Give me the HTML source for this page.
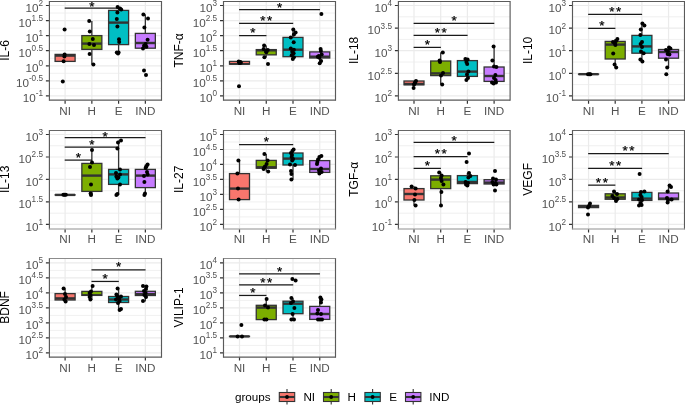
<!DOCTYPE html>
<html><head><meta charset="utf-8"><title>cytokines</title>
<style>html,body{margin:0;padding:0;background:#fff;}body{width:685px;height:405px;overflow:hidden;font-family:"Liberation Sans",sans-serif;}svg{display:block;will-change:transform;}</style></head>
<body>
<svg width="685" height="405" viewBox="0 0 685 405" font-family="'Liberation Sans', sans-serif">
<rect width="685" height="405" fill="#fff"/>
<g>
<rect x="49.4" y="1.5" width="112.1" height="98.65" fill="#fff"/>
<path d="M49.4 13.04H161.5M49.4 28.11H161.5M49.4 43.17H161.5M49.4 58.25H161.5M49.4 73.31H161.5M49.4 88.39H161.5" stroke="#ebebeb" stroke-width="0.75" fill="none"/>
<path d="M49.4 5.5H161.5M49.4 20.57H161.5M49.4 35.64H161.5M49.4 50.71H161.5M49.4 65.78H161.5M49.4 80.85H161.5M49.4 95.92H161.5M65.1 1.5V100.15M91.85 1.5V100.15M118.6 1.5V100.15M145.35 1.5V100.15" stroke="#ebebeb" stroke-width="1.2" fill="none"/>
<rect x="55.1" y="54.4" width="20" height="7" fill="#F8766D" stroke="#333" stroke-width="1.3"/>
<path d="M55.1 55.6H75.1" stroke="#333" stroke-width="2.4" fill="none"/>
<path d="M91.85 21V35.6M91.85 49.4V64.6" stroke="#333" stroke-width="1.3" fill="none"/>
<rect x="81.85" y="35.6" width="20" height="13.8" fill="#7CAE00" stroke="#333" stroke-width="1.3"/>
<path d="M81.85 43.6H101.85" stroke="#333" stroke-width="2.4" fill="none"/>
<path d="M118.6 7V10.4M118.6 44.6V53" stroke="#333" stroke-width="1.3" fill="none"/>
<rect x="108.6" y="10.4" width="20" height="34.2" fill="#00BFC4" stroke="#333" stroke-width="1.3"/>
<path d="M108.6 22.6H128.6" stroke="#333" stroke-width="2.4" fill="none"/>
<path d="M145.35 14.4V33.4M145.35 48.2V49" stroke="#333" stroke-width="1.3" fill="none"/>
<rect x="135.35" y="33.4" width="20" height="14.8" fill="#C77CFF" stroke="#333" stroke-width="1.3"/>
<path d="M135.35 43H155.35" stroke="#333" stroke-width="2.4" fill="none"/>
<path d="M64.7 8.1H118.8" stroke="#1a1a1a" stroke-width="1.25" fill="none"/>
<text x="91.85" y="11.23" font-size="13.4" text-anchor="middle" fill="#000" stroke="#000" stroke-width="0.25">*</text>
<circle cx="64.6" cy="29.4" r="2" fill="#000"/>
<circle cx="64.6" cy="54.6" r="2" fill="#000"/>
<circle cx="64.4" cy="56.4" r="2" fill="#000"/>
<circle cx="63.6" cy="61.2" r="2" fill="#000"/>
<circle cx="62.8" cy="81.6" r="2" fill="#000"/>
<circle cx="89.2" cy="21" r="2" fill="#000"/>
<circle cx="89.8" cy="31.4" r="2" fill="#000"/>
<circle cx="92.8" cy="39" r="2" fill="#000"/>
<circle cx="89.4" cy="44" r="2" fill="#000"/>
<circle cx="94" cy="45" r="2" fill="#000"/>
<circle cx="89.6" cy="54" r="2" fill="#000"/>
<circle cx="93.4" cy="64.6" r="2" fill="#000"/>
<circle cx="117.6" cy="7" r="2" fill="#000"/>
<circle cx="120" cy="8.4" r="2" fill="#000"/>
<circle cx="121.2" cy="9.6" r="2" fill="#000"/>
<circle cx="117.4" cy="12.6" r="2" fill="#000"/>
<circle cx="116.8" cy="19" r="2" fill="#000"/>
<circle cx="117.4" cy="26.6" r="2" fill="#000"/>
<circle cx="119" cy="39.2" r="2" fill="#000"/>
<circle cx="119.2" cy="42" r="2" fill="#000"/>
<circle cx="116.8" cy="52.4" r="2" fill="#000"/>
<circle cx="118.6" cy="52.6" r="2" fill="#000"/>
<circle cx="118" cy="53.6" r="2" fill="#000"/>
<circle cx="143.4" cy="14.4" r="2" fill="#000"/>
<circle cx="148" cy="18.4" r="2" fill="#000"/>
<circle cx="144.4" cy="27.6" r="2" fill="#000"/>
<circle cx="147.6" cy="39.7" r="2" fill="#000"/>
<circle cx="145.6" cy="44" r="2" fill="#000"/>
<circle cx="144" cy="45.7" r="2" fill="#000"/>
<circle cx="146.4" cy="46.8" r="2" fill="#000"/>
<circle cx="143" cy="48.5" r="2" fill="#000"/>
<circle cx="144" cy="70.4" r="2" fill="#000"/>
<circle cx="146" cy="75" r="2" fill="#000"/>
<path d="M49.4 1.5V100.15M161.5 1.5V100.15" stroke="#5a5a5a" stroke-width="1.15" stroke-linecap="square" fill="none"/>
<path d="M49.4 1.5H161.5" stroke="#5a5a5a" stroke-width="1.15" fill="none"/>
<path d="M49.4 100.15H161.5" stroke="#5a5a5a" stroke-width="1.15" fill="none"/>
<path d="M45.9 5.5H48.9M45.9 20.57H48.9M45.9 35.64H48.9M45.9 50.71H48.9M45.9 65.78H48.9M45.9 80.85H48.9M45.9 95.92H48.9M65.1 100.65V103.65M91.85 100.65V103.65M118.6 100.65V103.65M145.35 100.65V103.65" stroke="#333" stroke-width="1.2" fill="none"/>
<text x="43" y="11.7" text-anchor="end" font-size="11.7" fill="#525252">10<tspan font-size="8.2" dy="-5.8">2</tspan></text>
<text x="43" y="26.77" text-anchor="end" font-size="11.7" fill="#525252">10<tspan font-size="8.2" dy="-5.8">1.5</tspan></text>
<text x="43" y="41.84" text-anchor="end" font-size="11.7" fill="#525252">10<tspan font-size="8.2" dy="-5.8">1</tspan></text>
<text x="43" y="56.91" text-anchor="end" font-size="11.7" fill="#525252">10<tspan font-size="8.2" dy="-5.8">0.5</tspan></text>
<text x="43" y="71.98" text-anchor="end" font-size="11.7" fill="#525252">10<tspan font-size="8.2" dy="-5.8">0</tspan></text>
<text x="43" y="87.05" text-anchor="end" font-size="11.7" fill="#525252">10<tspan font-size="8.2" dy="-5.8">-0.5</tspan></text>
<text x="43" y="102.12" text-anchor="end" font-size="11.7" fill="#525252">10<tspan font-size="8.2" dy="-5.8">-1</tspan></text>
<text x="65.1" y="114.55" text-anchor="middle" font-size="11.7" fill="#525252">NI</text>
<text x="91.85" y="114.55" text-anchor="middle" font-size="11.7" fill="#525252">H</text>
<text x="118.6" y="114.55" text-anchor="middle" font-size="11.7" fill="#525252">E</text>
<text x="145.35" y="114.55" text-anchor="middle" font-size="11.7" fill="#525252">IND</text>
<text transform="translate(9 50.43) rotate(-90)" text-anchor="middle" font-size="12" fill="#000">IL-6</text>
</g>
<g>
<rect x="223.5" y="1.5" width="112" height="98.65" fill="#fff"/>
<path d="M223.5 13.04H335.5M223.5 28.11H335.5M223.5 43.17H335.5M223.5 58.25H335.5M223.5 73.31H335.5M223.5 88.39H335.5" stroke="#ebebeb" stroke-width="0.75" fill="none"/>
<path d="M223.5 5.5H335.5M223.5 20.57H335.5M223.5 35.64H335.5M223.5 50.71H335.5M223.5 65.78H335.5M223.5 80.85H335.5M223.5 95.92H335.5M239.5 1.5V100.15M266.25 1.5V100.15M293 1.5V100.15M319.75 1.5V100.15" stroke="#ebebeb" stroke-width="1.2" fill="none"/>
<rect x="229.5" y="61.4" width="20" height="2.75" fill="#F8766D" stroke="#333" stroke-width="1.3"/>
<path d="M229.5 63.9H249.5" stroke="#333" stroke-width="1.8" fill="none"/>
<path d="M266.25 45.6V49.6M266.25 54.85V57.2" stroke="#333" stroke-width="1.3" fill="none"/>
<rect x="256.25" y="49.6" width="20" height="5.25" fill="#7CAE00" stroke="#333" stroke-width="1.3"/>
<path d="M256.25 50.3H276.25" stroke="#333" stroke-width="2.4" fill="none"/>
<path d="M293 29.4V37.4M293 56.7V58.9" stroke="#333" stroke-width="1.3" fill="none"/>
<rect x="283" y="37.4" width="20" height="19.3" fill="#00BFC4" stroke="#333" stroke-width="1.3"/>
<path d="M283 49.7H303" stroke="#333" stroke-width="2.4" fill="none"/>
<path d="M319.75 48.9V51.9M319.75 58V63.3" stroke="#333" stroke-width="1.3" fill="none"/>
<rect x="309.75" y="51.9" width="20" height="6.1" fill="#C77CFF" stroke="#333" stroke-width="1.3"/>
<path d="M309.75 56.7H329.75" stroke="#333" stroke-width="2.4" fill="none"/>
<path d="M239.1 9.55H319.95" stroke="#1a1a1a" stroke-width="1.25" fill="none"/>
<text x="279.62" y="12.24" font-size="13.4" text-anchor="middle" fill="#000" stroke="#000" stroke-width="0.25">*</text>
<path d="M239.1 23.3H293.2" stroke="#1a1a1a" stroke-width="1.25" fill="none"/>
<text x="262.85" y="24.94" font-size="13.4" text-anchor="middle" fill="#000" stroke="#000" stroke-width="0.25">*</text>
<text x="269.65" y="24.94" font-size="13.4" text-anchor="middle" fill="#000" stroke="#000" stroke-width="0.25">*</text>
<path d="M239.1 35.6H266.45" stroke="#1a1a1a" stroke-width="1.25" fill="none"/>
<text x="252.88" y="37.23" font-size="13.4" text-anchor="middle" fill="#000" stroke="#000" stroke-width="0.25">*</text>
<circle cx="238.7" cy="61.6" r="2" fill="#000"/>
<circle cx="240.4" cy="62" r="2" fill="#000"/>
<circle cx="239.4" cy="63" r="2" fill="#000"/>
<circle cx="240.8" cy="62.8" r="2" fill="#000"/>
<circle cx="239" cy="86.2" r="2" fill="#000"/>
<circle cx="264.1" cy="45.6" r="2" fill="#000"/>
<circle cx="263.6" cy="48.9" r="2" fill="#000"/>
<circle cx="267.8" cy="50" r="2" fill="#000"/>
<circle cx="266.3" cy="52.2" r="2" fill="#000"/>
<circle cx="266" cy="51" r="2" fill="#000"/>
<circle cx="264.4" cy="57.2" r="2" fill="#000"/>
<circle cx="268" cy="63.9" r="2" fill="#000"/>
<circle cx="293.3" cy="29.4" r="2" fill="#000"/>
<circle cx="295.6" cy="32.6" r="2" fill="#000"/>
<circle cx="293.9" cy="34.4" r="2" fill="#000"/>
<circle cx="290.8" cy="37.4" r="2" fill="#000"/>
<circle cx="293.7" cy="42.2" r="2" fill="#000"/>
<circle cx="290.8" cy="48.6" r="2" fill="#000"/>
<circle cx="293.9" cy="49.7" r="2" fill="#000"/>
<circle cx="292.2" cy="51.7" r="2" fill="#000"/>
<circle cx="293.6" cy="53.3" r="2" fill="#000"/>
<circle cx="291.7" cy="55.2" r="2" fill="#000"/>
<circle cx="293.9" cy="57.2" r="2" fill="#000"/>
<circle cx="292.8" cy="58.9" r="2" fill="#000"/>
<circle cx="321.4" cy="14" r="2" fill="#000"/>
<circle cx="320.6" cy="48.9" r="2" fill="#000"/>
<circle cx="320.9" cy="51" r="2" fill="#000"/>
<circle cx="321.7" cy="54.4" r="2" fill="#000"/>
<circle cx="318.9" cy="56.1" r="2" fill="#000"/>
<circle cx="317.8" cy="56.7" r="2" fill="#000"/>
<circle cx="319.4" cy="57.8" r="2" fill="#000"/>
<circle cx="321.1" cy="61.1" r="2" fill="#000"/>
<circle cx="319.7" cy="63.3" r="2" fill="#000"/>
<path d="M223.5 1.5V100.15M335.5 1.5V100.15" stroke="#5a5a5a" stroke-width="1.15" stroke-linecap="square" fill="none"/>
<path d="M223.5 1.5H335.5" stroke="#5a5a5a" stroke-width="1.15" fill="none"/>
<path d="M223.5 100.15H335.5" stroke="#5a5a5a" stroke-width="1.15" fill="none"/>
<path d="M220 5.5H223M220 20.57H223M220 35.64H223M220 50.71H223M220 65.78H223M220 80.85H223M220 95.92H223M239.5 100.65V103.65M266.25 100.65V103.65M293 100.65V103.65M319.75 100.65V103.65" stroke="#333" stroke-width="1.2" fill="none"/>
<text x="217.1" y="11.7" text-anchor="end" font-size="11.7" fill="#525252">10<tspan font-size="8.2" dy="-5.8">3</tspan></text>
<text x="217.1" y="26.77" text-anchor="end" font-size="11.7" fill="#525252">10<tspan font-size="8.2" dy="-5.8">2.5</tspan></text>
<text x="217.1" y="41.84" text-anchor="end" font-size="11.7" fill="#525252">10<tspan font-size="8.2" dy="-5.8">2</tspan></text>
<text x="217.1" y="56.91" text-anchor="end" font-size="11.7" fill="#525252">10<tspan font-size="8.2" dy="-5.8">1.5</tspan></text>
<text x="217.1" y="71.98" text-anchor="end" font-size="11.7" fill="#525252">10<tspan font-size="8.2" dy="-5.8">1</tspan></text>
<text x="217.1" y="87.05" text-anchor="end" font-size="11.7" fill="#525252">10<tspan font-size="8.2" dy="-5.8">0.5</tspan></text>
<text x="217.1" y="102.12" text-anchor="end" font-size="11.7" fill="#525252">10<tspan font-size="8.2" dy="-5.8">0</tspan></text>
<text x="239.5" y="114.55" text-anchor="middle" font-size="11.7" fill="#525252">NI</text>
<text x="266.25" y="114.55" text-anchor="middle" font-size="11.7" fill="#525252">H</text>
<text x="293" y="114.55" text-anchor="middle" font-size="11.7" fill="#525252">E</text>
<text x="319.75" y="114.55" text-anchor="middle" font-size="11.7" fill="#525252">IND</text>
<text transform="translate(183.1 50.43) rotate(-90)" text-anchor="middle" font-size="12" fill="#000">TNF-α</text>
</g>
<g>
<rect x="398.4" y="1.5" width="111.7" height="98.65" fill="#fff"/>
<path d="M398.4 16.8H510.1M398.4 39.4H510.1M398.4 62H510.1M398.4 84.6H510.1" stroke="#ebebeb" stroke-width="0.75" fill="none"/>
<path d="M398.4 5.5H510.1M398.4 28.1H510.1M398.4 50.7H510.1M398.4 73.3H510.1M398.4 95.9H510.1M414 1.5V100.15M440.7 1.5V100.15M467.4 1.5V100.15M494.1 1.5V100.15" stroke="#ebebeb" stroke-width="1.2" fill="none"/>
<rect x="404" y="81" width="20" height="3.8" fill="#F8766D" stroke="#333" stroke-width="1.3"/>
<path d="M404 84H424" stroke="#333" stroke-width="2.4" fill="none"/>
<path d="M440.7 52.6V61M440.7 75.6V84.4" stroke="#333" stroke-width="1.3" fill="none"/>
<rect x="430.7" y="61" width="20" height="14.6" fill="#7CAE00" stroke="#333" stroke-width="1.3"/>
<path d="M430.7 73.4H450.7" stroke="#333" stroke-width="2.4" fill="none"/>
<path d="M467.4 59V60.6M467.4 76.4V80" stroke="#333" stroke-width="1.3" fill="none"/>
<rect x="457.4" y="60.6" width="20" height="15.8" fill="#00BFC4" stroke="#333" stroke-width="1.3"/>
<path d="M457.4 71.6H477.4" stroke="#333" stroke-width="2.4" fill="none"/>
<path d="M494.1 46.6V67M494.1 81.4V83.6" stroke="#333" stroke-width="1.3" fill="none"/>
<rect x="484.1" y="67" width="20" height="14.4" fill="#C77CFF" stroke="#333" stroke-width="1.3"/>
<path d="M484.1 76H504.1" stroke="#333" stroke-width="2.4" fill="none"/>
<path d="M413.6 23.4H494.3" stroke="#1a1a1a" stroke-width="1.25" fill="none"/>
<text x="454.05" y="25.04" font-size="13.4" text-anchor="middle" fill="#000" stroke="#000" stroke-width="0.25">*</text>
<path d="M413.6 35.4H467.6" stroke="#1a1a1a" stroke-width="1.25" fill="none"/>
<text x="437.3" y="37.03" font-size="13.4" text-anchor="middle" fill="#000" stroke="#000" stroke-width="0.25">*</text>
<text x="444.1" y="37.03" font-size="13.4" text-anchor="middle" fill="#000" stroke="#000" stroke-width="0.25">*</text>
<path d="M413.6 47.4H440.9" stroke="#1a1a1a" stroke-width="1.25" fill="none"/>
<text x="427.35" y="49.03" font-size="13.4" text-anchor="middle" fill="#000" stroke="#000" stroke-width="0.25">*</text>
<circle cx="416" cy="81" r="2" fill="#000"/>
<circle cx="415" cy="82.4" r="2" fill="#000"/>
<circle cx="414.6" cy="83.4" r="2" fill="#000"/>
<circle cx="414" cy="84.4" r="2" fill="#000"/>
<circle cx="413.6" cy="88" r="2" fill="#000"/>
<circle cx="442.8" cy="52.6" r="2" fill="#000"/>
<circle cx="439.6" cy="60.4" r="2" fill="#000"/>
<circle cx="440" cy="62" r="2" fill="#000"/>
<circle cx="443" cy="73" r="2" fill="#000"/>
<circle cx="441" cy="75.6" r="2" fill="#000"/>
<circle cx="442.2" cy="84.4" r="2" fill="#000"/>
<circle cx="465.4" cy="59" r="2" fill="#000"/>
<circle cx="467.6" cy="59.6" r="2" fill="#000"/>
<circle cx="466.4" cy="62" r="2" fill="#000"/>
<circle cx="467.2" cy="64" r="2" fill="#000"/>
<circle cx="468.4" cy="71.4" r="2" fill="#000"/>
<circle cx="467" cy="74.4" r="2" fill="#000"/>
<circle cx="468" cy="78" r="2" fill="#000"/>
<circle cx="466.4" cy="80" r="2" fill="#000"/>
<circle cx="493.6" cy="46.6" r="2" fill="#000"/>
<circle cx="492.4" cy="60.4" r="2" fill="#000"/>
<circle cx="494" cy="66.4" r="2" fill="#000"/>
<circle cx="496.4" cy="67" r="2" fill="#000"/>
<circle cx="495.4" cy="75" r="2" fill="#000"/>
<circle cx="494" cy="78" r="2" fill="#000"/>
<circle cx="495.6" cy="80" r="2" fill="#000"/>
<circle cx="492" cy="82.4" r="2" fill="#000"/>
<circle cx="496" cy="82.4" r="2" fill="#000"/>
<circle cx="493.6" cy="83.6" r="2" fill="#000"/>
<path d="M398.4 1.5V100.15M510.1 1.5V100.15" stroke="#5a5a5a" stroke-width="1.15" stroke-linecap="square" fill="none"/>
<path d="M398.4 1.5H510.1" stroke="#5a5a5a" stroke-width="1.15" fill="none"/>
<path d="M398.4 100.15H510.1" stroke="#5a5a5a" stroke-width="1.15" fill="none"/>
<path d="M394.9 5.5H397.9M394.9 28.1H397.9M394.9 50.7H397.9M394.9 73.3H397.9M394.9 95.9H397.9M414 100.65V103.65M440.7 100.65V103.65M467.4 100.65V103.65M494.1 100.65V103.65" stroke="#333" stroke-width="1.2" fill="none"/>
<text x="392" y="11.7" text-anchor="end" font-size="11.7" fill="#525252">10<tspan font-size="8.2" dy="-5.8">4</tspan></text>
<text x="392" y="34.3" text-anchor="end" font-size="11.7" fill="#525252">10<tspan font-size="8.2" dy="-5.8">3.5</tspan></text>
<text x="392" y="56.9" text-anchor="end" font-size="11.7" fill="#525252">10<tspan font-size="8.2" dy="-5.8">3</tspan></text>
<text x="392" y="79.5" text-anchor="end" font-size="11.7" fill="#525252">10<tspan font-size="8.2" dy="-5.8">2.5</tspan></text>
<text x="392" y="102.1" text-anchor="end" font-size="11.7" fill="#525252">10<tspan font-size="8.2" dy="-5.8">2</tspan></text>
<text x="414" y="114.55" text-anchor="middle" font-size="11.7" fill="#525252">NI</text>
<text x="440.7" y="114.55" text-anchor="middle" font-size="11.7" fill="#525252">H</text>
<text x="467.4" y="114.55" text-anchor="middle" font-size="11.7" fill="#525252">E</text>
<text x="494.1" y="114.55" text-anchor="middle" font-size="11.7" fill="#525252">IND</text>
<text transform="translate(358 50.43) rotate(-90)" text-anchor="middle" font-size="12" fill="#000">IL-18</text>
</g>
<g>
<rect x="572.5" y="1.5" width="112" height="98.65" fill="#fff"/>
<path d="M572.5 16.8H684.5M572.5 39.4H684.5M572.5 62H684.5M572.5 84.6H684.5" stroke="#ebebeb" stroke-width="0.75" fill="none"/>
<path d="M572.5 5.5H684.5M572.5 28.1H684.5M572.5 50.7H684.5M572.5 73.3H684.5M572.5 95.9H684.5M588.55 1.5V100.15M615.2 1.5V100.15M641.9 1.5V100.15M668.55 1.5V100.15" stroke="#ebebeb" stroke-width="1.2" fill="none"/>
<rect x="578.55" y="74.2" width="20" height="0.01" fill="#F8766D" stroke="#333" stroke-width="1.3"/>
<path d="M578.55 74.2H598.55" stroke="#333" stroke-width="2.4" fill="none"/>
<path d="M615.2 39V41.4M615.2 59V67.6" stroke="#333" stroke-width="1.3" fill="none"/>
<rect x="605.2" y="41.4" width="20" height="17.6" fill="#7CAE00" stroke="#333" stroke-width="1.3"/>
<path d="M605.2 44.6H625.2" stroke="#333" stroke-width="2.4" fill="none"/>
<path d="M641.9 23.6V35.4M641.9 53.2V61.6" stroke="#333" stroke-width="1.3" fill="none"/>
<rect x="631.9" y="35.4" width="20" height="17.8" fill="#00BFC4" stroke="#333" stroke-width="1.3"/>
<path d="M631.9 46.4H651.9" stroke="#333" stroke-width="2.4" fill="none"/>
<path d="M668.55 47.6V49.5M668.55 58.2V67.4" stroke="#333" stroke-width="1.3" fill="none"/>
<rect x="658.55" y="49.5" width="20" height="8.7" fill="#C77CFF" stroke="#333" stroke-width="1.3"/>
<path d="M658.55 52H678.55" stroke="#333" stroke-width="2.4" fill="none"/>
<path d="M588.15 14.45H642.1" stroke="#1a1a1a" stroke-width="1.25" fill="none"/>
<text x="611.82" y="16.09" font-size="13.4" text-anchor="middle" fill="#000" stroke="#000" stroke-width="0.25">*</text>
<text x="618.62" y="16.09" font-size="13.4" text-anchor="middle" fill="#000" stroke="#000" stroke-width="0.25">*</text>
<path d="M588.15 28.35H615.4" stroke="#1a1a1a" stroke-width="1.25" fill="none"/>
<text x="601.88" y="29.99" font-size="13.4" text-anchor="middle" fill="#000" stroke="#000" stroke-width="0.25">*</text>
<circle cx="588" cy="74.2" r="2" fill="#000"/>
<circle cx="589.4" cy="74.2" r="2" fill="#000"/>
<circle cx="590.4" cy="74.2" r="2" fill="#000"/>
<circle cx="617.4" cy="39" r="2" fill="#000"/>
<circle cx="616" cy="41" r="2" fill="#000"/>
<circle cx="613" cy="42" r="2" fill="#000"/>
<circle cx="615" cy="43.6" r="2" fill="#000"/>
<circle cx="615.4" cy="45" r="2" fill="#000"/>
<circle cx="613.2" cy="53.6" r="2" fill="#000"/>
<circle cx="614.6" cy="64.4" r="2" fill="#000"/>
<circle cx="616.2" cy="67.6" r="2" fill="#000"/>
<circle cx="642.4" cy="23.6" r="2" fill="#000"/>
<circle cx="644.4" cy="25.4" r="2" fill="#000"/>
<circle cx="640.8" cy="29.6" r="2" fill="#000"/>
<circle cx="640.4" cy="35" r="2" fill="#000"/>
<circle cx="642" cy="42" r="2" fill="#000"/>
<circle cx="640.6" cy="44" r="2" fill="#000"/>
<circle cx="642" cy="47" r="2" fill="#000"/>
<circle cx="641" cy="51.6" r="2" fill="#000"/>
<circle cx="643.6" cy="53.2" r="2" fill="#000"/>
<circle cx="640.4" cy="59.4" r="2" fill="#000"/>
<circle cx="642.4" cy="61.4" r="2" fill="#000"/>
<circle cx="669" cy="47.6" r="2" fill="#000"/>
<circle cx="670.4" cy="48.6" r="2" fill="#000"/>
<circle cx="666" cy="50" r="2" fill="#000"/>
<circle cx="668" cy="51" r="2" fill="#000"/>
<circle cx="667.6" cy="54" r="2" fill="#000"/>
<circle cx="669.4" cy="54.4" r="2" fill="#000"/>
<circle cx="666" cy="59.4" r="2" fill="#000"/>
<circle cx="667.2" cy="67.6" r="2" fill="#000"/>
<circle cx="666.3" cy="74.3" r="2" fill="#000"/>
<path d="M572.5 1.5V100.15M684.5 1.5V100.15" stroke="#5a5a5a" stroke-width="1.15" stroke-linecap="square" fill="none"/>
<path d="M572.5 1.5H684.5" stroke="#5a5a5a" stroke-width="1.15" fill="none"/>
<path d="M572.5 100.15H684.5" stroke="#5a5a5a" stroke-width="1.15" fill="none"/>
<path d="M569 5.5H572M569 28.1H572M569 50.7H572M569 73.3H572M569 95.9H572M588.55 100.65V103.65M615.2 100.65V103.65M641.9 100.65V103.65M668.55 100.65V103.65" stroke="#333" stroke-width="1.2" fill="none"/>
<text x="566.1" y="11.7" text-anchor="end" font-size="11.7" fill="#525252">10<tspan font-size="8.2" dy="-5.8">3</tspan></text>
<text x="566.1" y="34.3" text-anchor="end" font-size="11.7" fill="#525252">10<tspan font-size="8.2" dy="-5.8">2</tspan></text>
<text x="566.1" y="56.9" text-anchor="end" font-size="11.7" fill="#525252">10<tspan font-size="8.2" dy="-5.8">1</tspan></text>
<text x="566.1" y="79.5" text-anchor="end" font-size="11.7" fill="#525252">10<tspan font-size="8.2" dy="-5.8">0</tspan></text>
<text x="566.1" y="102.1" text-anchor="end" font-size="11.7" fill="#525252">10<tspan font-size="8.2" dy="-5.8">-1</tspan></text>
<text x="588.55" y="114.55" text-anchor="middle" font-size="11.7" fill="#525252">NI</text>
<text x="615.2" y="114.55" text-anchor="middle" font-size="11.7" fill="#525252">H</text>
<text x="641.9" y="114.55" text-anchor="middle" font-size="11.7" fill="#525252">E</text>
<text x="668.55" y="114.55" text-anchor="middle" font-size="11.7" fill="#525252">IND</text>
<text transform="translate(532.1 50.43) rotate(-90)" text-anchor="middle" font-size="12" fill="#000">IL-10</text>
</g>
<g>
<rect x="49.4" y="130.5" width="112.1" height="98.45" fill="#fff"/>
<path d="M49.4 145.74H161.5M49.4 168.22H161.5M49.4 190.7H161.5M49.4 213.18H161.5" stroke="#ebebeb" stroke-width="0.75" fill="none"/>
<path d="M49.4 134.5H161.5M49.4 156.98H161.5M49.4 179.46H161.5M49.4 201.94H161.5M49.4 224.42H161.5M65.1 130.5V228.95M91.85 130.5V228.95M118.6 130.5V228.95M145.35 130.5V228.95" stroke="#ebebeb" stroke-width="1.2" fill="none"/>
<rect x="55.1" y="194.9" width="20" height="0.01" fill="#F8766D" stroke="#333" stroke-width="1.3"/>
<path d="M55.1 194.9H75.1" stroke="#333" stroke-width="2.4" fill="none"/>
<path d="M91.85 150V163.4M91.85 191.4V195" stroke="#333" stroke-width="1.3" fill="none"/>
<rect x="81.85" y="163.4" width="20" height="28" fill="#7CAE00" stroke="#333" stroke-width="1.3"/>
<path d="M81.85 175.6H101.85" stroke="#333" stroke-width="2.4" fill="none"/>
<path d="M118.6 140.6V169.4M118.6 184.4V195" stroke="#333" stroke-width="1.3" fill="none"/>
<rect x="108.6" y="169.4" width="20" height="15" fill="#00BFC4" stroke="#333" stroke-width="1.3"/>
<path d="M108.6 174.4H128.6" stroke="#333" stroke-width="2.4" fill="none"/>
<path d="M145.35 164.6V169.4M145.35 187.6V195" stroke="#333" stroke-width="1.3" fill="none"/>
<rect x="135.35" y="169.4" width="20" height="18.2" fill="#C77CFF" stroke="#333" stroke-width="1.3"/>
<path d="M135.35 175.6H155.35" stroke="#333" stroke-width="2.4" fill="none"/>
<path d="M64.7 137.7H145.55" stroke="#1a1a1a" stroke-width="1.25" fill="none"/>
<text x="105.22" y="140.53" font-size="13.4" text-anchor="middle" fill="#000" stroke="#000" stroke-width="0.25">*</text>
<path d="M64.7 147H118.8" stroke="#1a1a1a" stroke-width="1.25" fill="none"/>
<text x="91.85" y="149.44" font-size="13.4" text-anchor="middle" fill="#000" stroke="#000" stroke-width="0.25">*</text>
<path d="M64.7 160.1H92.05" stroke="#1a1a1a" stroke-width="1.25" fill="none"/>
<text x="78.47" y="161.74" font-size="13.4" text-anchor="middle" fill="#000" stroke="#000" stroke-width="0.25">*</text>
<circle cx="63.4" cy="194.8" r="2" fill="#000"/>
<circle cx="64.6" cy="194.8" r="2" fill="#000"/>
<circle cx="65.8" cy="194.8" r="2" fill="#000"/>
<circle cx="92" cy="150" r="2" fill="#000"/>
<circle cx="92" cy="162.6" r="2" fill="#000"/>
<circle cx="90" cy="167" r="2" fill="#000"/>
<circle cx="91" cy="184.6" r="2" fill="#000"/>
<circle cx="90.6" cy="193.6" r="2" fill="#000"/>
<circle cx="91" cy="195" r="2" fill="#000"/>
<circle cx="121" cy="140.6" r="2" fill="#000"/>
<circle cx="118" cy="142.6" r="2" fill="#000"/>
<circle cx="117.4" cy="148.6" r="2" fill="#000"/>
<circle cx="120" cy="169.4" r="2" fill="#000"/>
<circle cx="116" cy="173" r="2" fill="#000"/>
<circle cx="120" cy="174.6" r="2" fill="#000"/>
<circle cx="116.4" cy="176.6" r="2" fill="#000"/>
<circle cx="118.4" cy="177.4" r="2" fill="#000"/>
<circle cx="117.4" cy="178.4" r="2" fill="#000"/>
<circle cx="120" cy="184.4" r="2" fill="#000"/>
<circle cx="117.4" cy="194" r="2" fill="#000"/>
<circle cx="116.4" cy="195" r="2" fill="#000"/>
<circle cx="147.6" cy="164.6" r="2" fill="#000"/>
<circle cx="146.4" cy="166.6" r="2" fill="#000"/>
<circle cx="145.6" cy="168" r="2" fill="#000"/>
<circle cx="147" cy="172" r="2" fill="#000"/>
<circle cx="147.6" cy="174.6" r="2" fill="#000"/>
<circle cx="144" cy="176" r="2" fill="#000"/>
<circle cx="144.4" cy="182" r="2" fill="#000"/>
<circle cx="145" cy="193.6" r="2" fill="#000"/>
<circle cx="144.4" cy="195" r="2" fill="#000"/>
<path d="M49.4 130.5V228.95M161.5 130.5V228.95" stroke="#5a5a5a" stroke-width="1.15" stroke-linecap="square" fill="none"/>
<path d="M49.4 130.5H161.5" stroke="#666" stroke-width="1.15" fill="none"/>
<path d="M49.4 228.95H161.5" stroke="#b4b4b4" stroke-width="1.6" fill="none"/>
<path d="M45.9 134.5H48.9M45.9 156.98H48.9M45.9 179.46H48.9M45.9 201.94H48.9M45.9 224.42H48.9M65.1 229.45V232.45M91.85 229.45V232.45M118.6 229.45V232.45M145.35 229.45V232.45" stroke="#333" stroke-width="1.2" fill="none"/>
<text x="43" y="140.7" text-anchor="end" font-size="11.7" fill="#525252">10<tspan font-size="8.2" dy="-5.8">3</tspan></text>
<text x="43" y="163.18" text-anchor="end" font-size="11.7" fill="#525252">10<tspan font-size="8.2" dy="-5.8">2.5</tspan></text>
<text x="43" y="185.66" text-anchor="end" font-size="11.7" fill="#525252">10<tspan font-size="8.2" dy="-5.8">2</tspan></text>
<text x="43" y="208.14" text-anchor="end" font-size="11.7" fill="#525252">10<tspan font-size="8.2" dy="-5.8">1.5</tspan></text>
<text x="43" y="230.62" text-anchor="end" font-size="11.7" fill="#525252">10<tspan font-size="8.2" dy="-5.8">1</tspan></text>
<text x="65.1" y="243.35" text-anchor="middle" font-size="11.7" fill="#525252">NI</text>
<text x="91.85" y="243.35" text-anchor="middle" font-size="11.7" fill="#525252">H</text>
<text x="118.6" y="243.35" text-anchor="middle" font-size="11.7" fill="#525252">E</text>
<text x="145.35" y="243.35" text-anchor="middle" font-size="11.7" fill="#525252">IND</text>
<text transform="translate(9 179.32) rotate(-90)" text-anchor="middle" font-size="12" fill="#000">IL-13</text>
</g>
<g>
<rect x="223.5" y="130.5" width="112" height="98.45" fill="#fff"/>
<path d="M223.5 141.99H335.5M223.5 156.97H335.5M223.5 171.95H335.5M223.5 186.93H335.5M223.5 201.91H335.5M223.5 216.89H335.5" stroke="#ebebeb" stroke-width="0.75" fill="none"/>
<path d="M223.5 134.5H335.5M223.5 149.48H335.5M223.5 164.46H335.5M223.5 179.44H335.5M223.5 194.42H335.5M223.5 209.4H335.5M223.5 224.38H335.5M239.5 130.5V228.95M266.25 130.5V228.95M293 130.5V228.95M319.75 130.5V228.95" stroke="#ebebeb" stroke-width="1.2" fill="none"/>
<path d="M239.5 160.6V173.6" stroke="#333" stroke-width="1.3" fill="none"/>
<rect x="229.5" y="173.6" width="20" height="26" fill="#F8766D" stroke="#333" stroke-width="1.3"/>
<path d="M229.5 188.6H249.5" stroke="#333" stroke-width="2.4" fill="none"/>
<path d="M266.25 154V160.4M266.25 168.2V171.4" stroke="#333" stroke-width="1.3" fill="none"/>
<rect x="256.25" y="160.4" width="20" height="7.8" fill="#7CAE00" stroke="#333" stroke-width="1.3"/>
<path d="M256.25 167.3H276.25" stroke="#333" stroke-width="2.4" fill="none"/>
<path d="M293 149.4V153M293 165V179.4" stroke="#333" stroke-width="1.3" fill="none"/>
<rect x="283" y="153" width="20" height="12" fill="#00BFC4" stroke="#333" stroke-width="1.3"/>
<path d="M283 158.6H303" stroke="#333" stroke-width="2.4" fill="none"/>
<path d="M319.75 156V160.6M319.75 172.4V174" stroke="#333" stroke-width="1.3" fill="none"/>
<rect x="309.75" y="160.6" width="20" height="11.8" fill="#C77CFF" stroke="#333" stroke-width="1.3"/>
<path d="M309.75 169H329.75" stroke="#333" stroke-width="2.4" fill="none"/>
<path d="M239.1 144.6H293.2" stroke="#1a1a1a" stroke-width="1.25" fill="none"/>
<text x="266.25" y="146.24" font-size="13.4" text-anchor="middle" fill="#000" stroke="#000" stroke-width="0.25">*</text>
<circle cx="238.4" cy="160.6" r="2" fill="#000"/>
<circle cx="237.4" cy="173.4" r="2" fill="#000"/>
<circle cx="238" cy="188.6" r="2" fill="#000"/>
<circle cx="238.6" cy="199.6" r="2" fill="#000"/>
<circle cx="264.4" cy="154" r="2" fill="#000"/>
<circle cx="267.6" cy="160.6" r="2" fill="#000"/>
<circle cx="266.6" cy="164" r="2" fill="#000"/>
<circle cx="265" cy="166.4" r="2" fill="#000"/>
<circle cx="264.4" cy="167.6" r="2" fill="#000"/>
<circle cx="263.6" cy="169" r="2" fill="#000"/>
<circle cx="268.2" cy="171.4" r="2" fill="#000"/>
<circle cx="293.6" cy="149.4" r="2" fill="#000"/>
<circle cx="292.4" cy="151" r="2" fill="#000"/>
<circle cx="291" cy="153" r="2" fill="#000"/>
<circle cx="292" cy="155" r="2" fill="#000"/>
<circle cx="291.6" cy="157" r="2" fill="#000"/>
<circle cx="293" cy="159" r="2" fill="#000"/>
<circle cx="292.2" cy="160.6" r="2" fill="#000"/>
<circle cx="290" cy="164.4" r="2" fill="#000"/>
<circle cx="295" cy="165" r="2" fill="#000"/>
<circle cx="291" cy="171" r="2" fill="#000"/>
<circle cx="291.4" cy="174" r="2" fill="#000"/>
<circle cx="291.4" cy="179.4" r="2" fill="#000"/>
<circle cx="321.4" cy="156" r="2" fill="#000"/>
<circle cx="319.4" cy="157" r="2" fill="#000"/>
<circle cx="318" cy="159.4" r="2" fill="#000"/>
<circle cx="317.4" cy="162" r="2" fill="#000"/>
<circle cx="317" cy="164" r="2" fill="#000"/>
<circle cx="321" cy="168.6" r="2" fill="#000"/>
<circle cx="319" cy="170.6" r="2" fill="#000"/>
<circle cx="321.6" cy="172" r="2" fill="#000"/>
<circle cx="319.4" cy="173.6" r="2" fill="#000"/>
<path d="M223.5 130.5V228.95M335.5 130.5V228.95" stroke="#5a5a5a" stroke-width="1.15" stroke-linecap="square" fill="none"/>
<path d="M223.5 130.5H335.5" stroke="#666" stroke-width="1.15" fill="none"/>
<path d="M223.5 228.95H335.5" stroke="#b4b4b4" stroke-width="1.6" fill="none"/>
<path d="M220 134.5H223M220 149.48H223M220 164.46H223M220 179.44H223M220 194.42H223M220 209.4H223M220 224.38H223M239.5 229.45V232.45M266.25 229.45V232.45M293 229.45V232.45M319.75 229.45V232.45" stroke="#333" stroke-width="1.2" fill="none"/>
<text x="217.1" y="140.7" text-anchor="end" font-size="11.7" fill="#525252">10<tspan font-size="8.2" dy="-5.8">5</tspan></text>
<text x="217.1" y="155.68" text-anchor="end" font-size="11.7" fill="#525252">10<tspan font-size="8.2" dy="-5.8">4.5</tspan></text>
<text x="217.1" y="170.66" text-anchor="end" font-size="11.7" fill="#525252">10<tspan font-size="8.2" dy="-5.8">4</tspan></text>
<text x="217.1" y="185.64" text-anchor="end" font-size="11.7" fill="#525252">10<tspan font-size="8.2" dy="-5.8">3.5</tspan></text>
<text x="217.1" y="200.62" text-anchor="end" font-size="11.7" fill="#525252">10<tspan font-size="8.2" dy="-5.8">3</tspan></text>
<text x="217.1" y="215.6" text-anchor="end" font-size="11.7" fill="#525252">10<tspan font-size="8.2" dy="-5.8">2.5</tspan></text>
<text x="217.1" y="230.58" text-anchor="end" font-size="11.7" fill="#525252">10<tspan font-size="8.2" dy="-5.8">2</tspan></text>
<text x="239.5" y="243.35" text-anchor="middle" font-size="11.7" fill="#525252">NI</text>
<text x="266.25" y="243.35" text-anchor="middle" font-size="11.7" fill="#525252">H</text>
<text x="293" y="243.35" text-anchor="middle" font-size="11.7" fill="#525252">E</text>
<text x="319.75" y="243.35" text-anchor="middle" font-size="11.7" fill="#525252">IND</text>
<text transform="translate(183.1 179.32) rotate(-90)" text-anchor="middle" font-size="12" fill="#000">IL-27</text>
</g>
<g>
<rect x="398.4" y="130.5" width="111.7" height="98.45" fill="#fff"/>
<path d="M398.4 145.74H510.1M398.4 168.22H510.1M398.4 190.7H510.1M398.4 213.18H510.1" stroke="#ebebeb" stroke-width="0.75" fill="none"/>
<path d="M398.4 134.5H510.1M398.4 156.98H510.1M398.4 179.46H510.1M398.4 201.94H510.1M398.4 224.42H510.1M414 130.5V228.95M440.7 130.5V228.95M467.4 130.5V228.95M494.1 130.5V228.95" stroke="#ebebeb" stroke-width="1.2" fill="none"/>
<path d="M414 186V188.6M414 200V205.6" stroke="#333" stroke-width="1.3" fill="none"/>
<rect x="404" y="188.6" width="20" height="11.4" fill="#F8766D" stroke="#333" stroke-width="1.3"/>
<path d="M404 194H424" stroke="#333" stroke-width="2.4" fill="none"/>
<path d="M440.7 172.6V175.8M440.7 188.6V205.6" stroke="#333" stroke-width="1.3" fill="none"/>
<rect x="430.7" y="175.8" width="20" height="12.8" fill="#7CAE00" stroke="#333" stroke-width="1.3"/>
<path d="M430.7 179.6H450.7" stroke="#333" stroke-width="2.4" fill="none"/>
<path d="M467.4 173V175.6M467.4 183.6V186" stroke="#333" stroke-width="1.3" fill="none"/>
<rect x="457.4" y="175.6" width="20" height="8" fill="#00BFC4" stroke="#333" stroke-width="1.3"/>
<path d="M457.4 182H477.4" stroke="#333" stroke-width="2.4" fill="none"/>
<path d="M494.1 178V179.7M494.1 184V185" stroke="#333" stroke-width="1.3" fill="none"/>
<rect x="484.1" y="179.7" width="20" height="4.3" fill="#C77CFF" stroke="#333" stroke-width="1.3"/>
<path d="M484.1 182.6H504.1" stroke="#333" stroke-width="2.4" fill="none"/>
<path d="M413.6 142.3H494.3" stroke="#1a1a1a" stroke-width="1.25" fill="none"/>
<text x="454.05" y="144.54" font-size="13.4" text-anchor="middle" fill="#000" stroke="#000" stroke-width="0.25">*</text>
<path d="M413.6 156.6H467.6" stroke="#1a1a1a" stroke-width="1.25" fill="none"/>
<text x="437.3" y="158.24" font-size="13.4" text-anchor="middle" fill="#000" stroke="#000" stroke-width="0.25">*</text>
<text x="444.1" y="158.24" font-size="13.4" text-anchor="middle" fill="#000" stroke="#000" stroke-width="0.25">*</text>
<path d="M413.6 168.4H440.9" stroke="#1a1a1a" stroke-width="1.25" fill="none"/>
<text x="427.35" y="170.04" font-size="13.4" text-anchor="middle" fill="#000" stroke="#000" stroke-width="0.25">*</text>
<circle cx="411.6" cy="186.4" r="2" fill="#000"/>
<circle cx="415.6" cy="188.6" r="2" fill="#000"/>
<circle cx="415" cy="194.4" r="2" fill="#000"/>
<circle cx="414.4" cy="200" r="2" fill="#000"/>
<circle cx="415.6" cy="205.6" r="2" fill="#000"/>
<circle cx="439.2" cy="172.6" r="2" fill="#000"/>
<circle cx="441.6" cy="175.4" r="2" fill="#000"/>
<circle cx="441" cy="178" r="2" fill="#000"/>
<circle cx="441.6" cy="181" r="2" fill="#000"/>
<circle cx="443.4" cy="184.4" r="2" fill="#000"/>
<circle cx="441.4" cy="192" r="2" fill="#000"/>
<circle cx="441" cy="205.6" r="2" fill="#000"/>
<circle cx="469" cy="153.4" r="2" fill="#000"/>
<circle cx="466.6" cy="162" r="2" fill="#000"/>
<circle cx="469" cy="173" r="2" fill="#000"/>
<circle cx="470.4" cy="176" r="2" fill="#000"/>
<circle cx="468.4" cy="177.4" r="2" fill="#000"/>
<circle cx="465.6" cy="182" r="2" fill="#000"/>
<circle cx="468" cy="183" r="2" fill="#000"/>
<circle cx="466" cy="184.4" r="2" fill="#000"/>
<circle cx="467.4" cy="185.6" r="2" fill="#000"/>
<circle cx="495" cy="171" r="2" fill="#000"/>
<circle cx="493" cy="178.6" r="2" fill="#000"/>
<circle cx="496" cy="179.4" r="2" fill="#000"/>
<circle cx="492.4" cy="182" r="2" fill="#000"/>
<circle cx="495.6" cy="183" r="2" fill="#000"/>
<circle cx="493.6" cy="184.4" r="2" fill="#000"/>
<circle cx="496.4" cy="184.4" r="2" fill="#000"/>
<circle cx="495" cy="190.4" r="2" fill="#000"/>
<path d="M398.4 130.5V228.95M510.1 130.5V228.95" stroke="#5a5a5a" stroke-width="1.15" stroke-linecap="square" fill="none"/>
<path d="M398.4 130.5H510.1" stroke="#666" stroke-width="1.15" fill="none"/>
<path d="M398.4 228.95H510.1" stroke="#b4b4b4" stroke-width="1.6" fill="none"/>
<path d="M394.9 134.5H397.9M394.9 156.98H397.9M394.9 179.46H397.9M394.9 201.94H397.9M394.9 224.42H397.9M414 229.45V232.45M440.7 229.45V232.45M467.4 229.45V232.45M494.1 229.45V232.45" stroke="#333" stroke-width="1.2" fill="none"/>
<text x="392" y="140.7" text-anchor="end" font-size="11.7" fill="#525252">10<tspan font-size="8.2" dy="-5.8">3</tspan></text>
<text x="392" y="163.18" text-anchor="end" font-size="11.7" fill="#525252">10<tspan font-size="8.2" dy="-5.8">2</tspan></text>
<text x="392" y="185.66" text-anchor="end" font-size="11.7" fill="#525252">10<tspan font-size="8.2" dy="-5.8">1</tspan></text>
<text x="392" y="208.14" text-anchor="end" font-size="11.7" fill="#525252">10<tspan font-size="8.2" dy="-5.8">0</tspan></text>
<text x="392" y="230.62" text-anchor="end" font-size="11.7" fill="#525252">10<tspan font-size="8.2" dy="-5.8">-1</tspan></text>
<text x="414" y="243.35" text-anchor="middle" font-size="11.7" fill="#525252">NI</text>
<text x="440.7" y="243.35" text-anchor="middle" font-size="11.7" fill="#525252">H</text>
<text x="467.4" y="243.35" text-anchor="middle" font-size="11.7" fill="#525252">E</text>
<text x="494.1" y="243.35" text-anchor="middle" font-size="11.7" fill="#525252">IND</text>
<text transform="translate(358 179.32) rotate(-90)" text-anchor="middle" font-size="12" fill="#000">TGF-α</text>
</g>
<g>
<rect x="572.5" y="130.5" width="112" height="98.45" fill="#fff"/>
<path d="M572.5 145.74H684.5M572.5 168.22H684.5M572.5 190.7H684.5M572.5 213.18H684.5" stroke="#ebebeb" stroke-width="0.75" fill="none"/>
<path d="M572.5 134.5H684.5M572.5 156.98H684.5M572.5 179.46H684.5M572.5 201.94H684.5M572.5 224.42H684.5M588.55 130.5V228.95M615.2 130.5V228.95M641.9 130.5V228.95M668.55 130.5V228.95" stroke="#ebebeb" stroke-width="1.2" fill="none"/>
<path d="M588.55 203.6V205.4" stroke="#333" stroke-width="1.3" fill="none"/>
<rect x="578.55" y="205.4" width="20" height="2.2" fill="#F8766D" stroke="#333" stroke-width="1.3"/>
<path d="M578.55 206.6H598.55" stroke="#333" stroke-width="2.4" fill="none"/>
<path d="M615.2 191V193.8M615.2 199.25V201" stroke="#333" stroke-width="1.3" fill="none"/>
<rect x="605.2" y="193.8" width="20" height="5.45" fill="#7CAE00" stroke="#333" stroke-width="1.3"/>
<path d="M605.2 197.5H625.2" stroke="#333" stroke-width="2.4" fill="none"/>
<path d="M641.9 191V192.4M641.9 200.4V205.4" stroke="#333" stroke-width="1.3" fill="none"/>
<rect x="631.9" y="192.4" width="20" height="8" fill="#00BFC4" stroke="#333" stroke-width="1.3"/>
<path d="M631.9 198.6H651.9" stroke="#333" stroke-width="2.4" fill="none"/>
<path d="M668.55 185.6V193M668.55 199.6V202.4" stroke="#333" stroke-width="1.3" fill="none"/>
<rect x="658.55" y="193" width="20" height="6.6" fill="#C77CFF" stroke="#333" stroke-width="1.3"/>
<path d="M658.55 198.6H678.55" stroke="#333" stroke-width="2.4" fill="none"/>
<path d="M588.15 153.6H668.75" stroke="#1a1a1a" stroke-width="1.25" fill="none"/>
<text x="625.15" y="155.24" font-size="13.4" text-anchor="middle" fill="#000" stroke="#000" stroke-width="0.25">*</text>
<text x="631.95" y="155.24" font-size="13.4" text-anchor="middle" fill="#000" stroke="#000" stroke-width="0.25">*</text>
<path d="M588.15 168.4H642.1" stroke="#1a1a1a" stroke-width="1.25" fill="none"/>
<text x="611.82" y="170.04" font-size="13.4" text-anchor="middle" fill="#000" stroke="#000" stroke-width="0.25">*</text>
<text x="618.62" y="170.04" font-size="13.4" text-anchor="middle" fill="#000" stroke="#000" stroke-width="0.25">*</text>
<path d="M588.15 185.15H615.4" stroke="#1a1a1a" stroke-width="1.25" fill="none"/>
<text x="598.48" y="186.79" font-size="13.4" text-anchor="middle" fill="#000" stroke="#000" stroke-width="0.25">*</text>
<text x="605.27" y="186.79" font-size="13.4" text-anchor="middle" fill="#000" stroke="#000" stroke-width="0.25">*</text>
<circle cx="590" cy="203.6" r="2" fill="#000"/>
<circle cx="589" cy="206" r="2" fill="#000"/>
<circle cx="588" cy="207.4" r="2" fill="#000"/>
<circle cx="588" cy="214.6" r="2" fill="#000"/>
<circle cx="614" cy="191.4" r="2" fill="#000"/>
<circle cx="617" cy="194" r="2" fill="#000"/>
<circle cx="612.4" cy="196" r="2" fill="#000"/>
<circle cx="614" cy="198" r="2" fill="#000"/>
<circle cx="617.4" cy="199" r="2" fill="#000"/>
<circle cx="616" cy="201" r="2" fill="#000"/>
<circle cx="639.6" cy="174" r="2" fill="#000"/>
<circle cx="644.4" cy="191.4" r="2" fill="#000"/>
<circle cx="641" cy="192" r="2" fill="#000"/>
<circle cx="640.4" cy="195" r="2" fill="#000"/>
<circle cx="641.6" cy="197" r="2" fill="#000"/>
<circle cx="639" cy="199.6" r="2" fill="#000"/>
<circle cx="642" cy="200" r="2" fill="#000"/>
<circle cx="640.4" cy="203" r="2" fill="#000"/>
<circle cx="639" cy="205.4" r="2" fill="#000"/>
<circle cx="641.6" cy="205" r="2" fill="#000"/>
<circle cx="669.6" cy="185.6" r="2" fill="#000"/>
<circle cx="671" cy="187" r="2" fill="#000"/>
<circle cx="667.6" cy="191.4" r="2" fill="#000"/>
<circle cx="667" cy="198" r="2" fill="#000"/>
<circle cx="668" cy="200" r="2" fill="#000"/>
<circle cx="671.6" cy="199.6" r="2" fill="#000"/>
<circle cx="667.6" cy="202.4" r="2" fill="#000"/>
<path d="M572.5 130.5V228.95M684.5 130.5V228.95" stroke="#5a5a5a" stroke-width="1.15" stroke-linecap="square" fill="none"/>
<path d="M572.5 130.5H684.5" stroke="#666" stroke-width="1.15" fill="none"/>
<path d="M572.5 228.95H684.5" stroke="#b4b4b4" stroke-width="1.6" fill="none"/>
<path d="M569 134.5H572M569 156.98H572M569 179.46H572M569 201.94H572M569 224.42H572M588.55 229.45V232.45M615.2 229.45V232.45M641.9 229.45V232.45M668.55 229.45V232.45" stroke="#333" stroke-width="1.2" fill="none"/>
<text x="566.1" y="140.7" text-anchor="end" font-size="11.7" fill="#525252">10<tspan font-size="8.2" dy="-5.8">4</tspan></text>
<text x="566.1" y="163.18" text-anchor="end" font-size="11.7" fill="#525252">10<tspan font-size="8.2" dy="-5.8">3.5</tspan></text>
<text x="566.1" y="185.66" text-anchor="end" font-size="11.7" fill="#525252">10<tspan font-size="8.2" dy="-5.8">3</tspan></text>
<text x="566.1" y="208.14" text-anchor="end" font-size="11.7" fill="#525252">10<tspan font-size="8.2" dy="-5.8">2.5</tspan></text>
<text x="566.1" y="230.62" text-anchor="end" font-size="11.7" fill="#525252">10<tspan font-size="8.2" dy="-5.8">2</tspan></text>
<text x="588.55" y="243.35" text-anchor="middle" font-size="11.7" fill="#525252">NI</text>
<text x="615.2" y="243.35" text-anchor="middle" font-size="11.7" fill="#525252">H</text>
<text x="641.9" y="243.35" text-anchor="middle" font-size="11.7" fill="#525252">E</text>
<text x="668.55" y="243.35" text-anchor="middle" font-size="11.7" fill="#525252">IND</text>
<text transform="translate(532.1 179.32) rotate(-90)" text-anchor="middle" font-size="12" fill="#000">VEGF</text>
</g>
<g>
<rect x="49.4" y="258.5" width="112.1" height="98.6" fill="#fff"/>
<path d="M49.4 270.4H161.5M49.4 285.4H161.5M49.4 300.4H161.5M49.4 315.4H161.5M49.4 330.4H161.5M49.4 345.4H161.5" stroke="#ebebeb" stroke-width="0.75" fill="none"/>
<path d="M49.4 262.9H161.5M49.4 277.9H161.5M49.4 292.9H161.5M49.4 307.9H161.5M49.4 322.9H161.5M49.4 337.9H161.5M49.4 352.9H161.5M65.1 258.5V357.1M91.85 258.5V357.1M118.6 258.5V357.1M145.35 258.5V357.1" stroke="#ebebeb" stroke-width="1.2" fill="none"/>
<path d="M65.1 288.6V293.6M65.1 300V301.6" stroke="#333" stroke-width="1.3" fill="none"/>
<rect x="55.1" y="293.6" width="20" height="6.4" fill="#F8766D" stroke="#333" stroke-width="1.3"/>
<path d="M55.1 298.4H75.1" stroke="#333" stroke-width="2.4" fill="none"/>
<path d="M91.85 286V291.4M91.85 295.4V300" stroke="#333" stroke-width="1.3" fill="none"/>
<rect x="81.85" y="291.4" width="20" height="4" fill="#7CAE00" stroke="#333" stroke-width="1.3"/>
<path d="M81.85 294.9H101.85" stroke="#333" stroke-width="1.6" fill="none"/>
<path d="M118.6 288.6V296.5M118.6 302.5V310" stroke="#333" stroke-width="1.3" fill="none"/>
<rect x="108.6" y="296.5" width="20" height="6" fill="#00BFC4" stroke="#333" stroke-width="1.3"/>
<path d="M108.6 299.5H128.6" stroke="#333" stroke-width="2.4" fill="none"/>
<path d="M145.35 286V291.3M145.35 295.5V301.4" stroke="#333" stroke-width="1.3" fill="none"/>
<rect x="135.35" y="291.3" width="20" height="4.2" fill="#C77CFF" stroke="#333" stroke-width="1.3"/>
<path d="M135.35 294.1H155.35" stroke="#333" stroke-width="2.4" fill="none"/>
<path d="M91.45 269.85H145.55" stroke="#1a1a1a" stroke-width="1.25" fill="none"/>
<text x="118.6" y="271.49" font-size="13.4" text-anchor="middle" fill="#000" stroke="#000" stroke-width="0.25">*</text>
<path d="M91.45 281.45H118.8" stroke="#1a1a1a" stroke-width="1.25" fill="none"/>
<text x="105.22" y="283.09" font-size="13.4" text-anchor="middle" fill="#000" stroke="#000" stroke-width="0.25">*</text>
<circle cx="63.6" cy="288.6" r="2" fill="#000"/>
<circle cx="65" cy="294" r="2" fill="#000"/>
<circle cx="66" cy="297" r="2" fill="#000"/>
<circle cx="64.4" cy="299.6" r="2" fill="#000"/>
<circle cx="65.6" cy="301.4" r="2" fill="#000"/>
<circle cx="92.6" cy="286" r="2" fill="#000"/>
<circle cx="91" cy="291.4" r="2" fill="#000"/>
<circle cx="89.6" cy="293" r="2" fill="#000"/>
<circle cx="90.6" cy="295" r="2" fill="#000"/>
<circle cx="89.6" cy="297" r="2" fill="#000"/>
<circle cx="90.4" cy="299.4" r="2" fill="#000"/>
<circle cx="117.6" cy="288.6" r="2" fill="#000"/>
<circle cx="116.4" cy="294.4" r="2" fill="#000"/>
<circle cx="117.6" cy="296.4" r="2" fill="#000"/>
<circle cx="121" cy="296.4" r="2" fill="#000"/>
<circle cx="119" cy="298.4" r="2" fill="#000"/>
<circle cx="116" cy="299.6" r="2" fill="#000"/>
<circle cx="119.6" cy="301" r="2" fill="#000"/>
<circle cx="118" cy="303" r="2" fill="#000"/>
<circle cx="121" cy="309" r="2" fill="#000"/>
<circle cx="119.6" cy="310" r="2" fill="#000"/>
<circle cx="143" cy="286" r="2" fill="#000"/>
<circle cx="146.4" cy="286.6" r="2" fill="#000"/>
<circle cx="146" cy="289" r="2" fill="#000"/>
<circle cx="144" cy="291" r="2" fill="#000"/>
<circle cx="145.6" cy="293" r="2" fill="#000"/>
<circle cx="144.4" cy="295" r="2" fill="#000"/>
<circle cx="146" cy="297" r="2" fill="#000"/>
<circle cx="143" cy="301" r="2" fill="#000"/>
<path d="M49.4 258.5V357.1M161.5 258.5V357.1" stroke="#5a5a5a" stroke-width="1.15" stroke-linecap="square" fill="none"/>
<path d="M49.4 258.5H161.5" stroke="#8c8c8c" stroke-width="1.2" fill="none"/>
<path d="M49.4 357.1H161.5" stroke="#5a5a5a" stroke-width="1.15" fill="none"/>
<path d="M45.9 262.9H48.9M45.9 277.9H48.9M45.9 292.9H48.9M45.9 307.9H48.9M45.9 322.9H48.9M45.9 337.9H48.9M45.9 352.9H48.9M65.1 357.6V360.6M91.85 357.6V360.6M118.6 357.6V360.6M145.35 357.6V360.6" stroke="#333" stroke-width="1.2" fill="none"/>
<text x="43" y="269.1" text-anchor="end" font-size="11.7" fill="#525252">10<tspan font-size="8.2" dy="-5.8">5</tspan></text>
<text x="43" y="284.1" text-anchor="end" font-size="11.7" fill="#525252">10<tspan font-size="8.2" dy="-5.8">4.5</tspan></text>
<text x="43" y="299.1" text-anchor="end" font-size="11.7" fill="#525252">10<tspan font-size="8.2" dy="-5.8">4</tspan></text>
<text x="43" y="314.1" text-anchor="end" font-size="11.7" fill="#525252">10<tspan font-size="8.2" dy="-5.8">3.5</tspan></text>
<text x="43" y="329.1" text-anchor="end" font-size="11.7" fill="#525252">10<tspan font-size="8.2" dy="-5.8">3</tspan></text>
<text x="43" y="344.1" text-anchor="end" font-size="11.7" fill="#525252">10<tspan font-size="8.2" dy="-5.8">2.5</tspan></text>
<text x="43" y="359.1" text-anchor="end" font-size="11.7" fill="#525252">10<tspan font-size="8.2" dy="-5.8">2</tspan></text>
<text x="65.1" y="371.5" text-anchor="middle" font-size="11.7" fill="#525252">NI</text>
<text x="91.85" y="371.5" text-anchor="middle" font-size="11.7" fill="#525252">H</text>
<text x="118.6" y="371.5" text-anchor="middle" font-size="11.7" fill="#525252">E</text>
<text x="145.35" y="371.5" text-anchor="middle" font-size="11.7" fill="#525252">IND</text>
<text transform="translate(9 307.4) rotate(-90)" text-anchor="middle" font-size="12" fill="#000">BDNF</text>
</g>
<g>
<rect x="223.5" y="258.5" width="112" height="98.6" fill="#fff"/>
<path d="M223.5 270.4H335.5M223.5 285.4H335.5M223.5 300.4H335.5M223.5 315.4H335.5M223.5 330.4H335.5M223.5 345.4H335.5" stroke="#ebebeb" stroke-width="0.75" fill="none"/>
<path d="M223.5 262.9H335.5M223.5 277.9H335.5M223.5 292.9H335.5M223.5 307.9H335.5M223.5 322.9H335.5M223.5 337.9H335.5M223.5 352.9H335.5M239.5 258.5V357.1M266.25 258.5V357.1M293 258.5V357.1M319.75 258.5V357.1" stroke="#ebebeb" stroke-width="1.2" fill="none"/>
<rect x="229.5" y="336.4" width="20" height="0.01" fill="#F8766D" stroke="#333" stroke-width="1.3"/>
<path d="M229.5 336.4H249.5" stroke="#333" stroke-width="2.4" fill="none"/>
<path d="M266.25 299V305.3" stroke="#333" stroke-width="1.3" fill="none"/>
<rect x="256.25" y="305.3" width="20" height="14.3" fill="#7CAE00" stroke="#333" stroke-width="1.3"/>
<path d="M256.25 307.6H276.25" stroke="#333" stroke-width="2.4" fill="none"/>
<path d="M293 298V301.2M293 313.7V319.6" stroke="#333" stroke-width="1.3" fill="none"/>
<rect x="283" y="301.2" width="20" height="12.5" fill="#00BFC4" stroke="#333" stroke-width="1.3"/>
<path d="M283 303.7H303" stroke="#333" stroke-width="2.4" fill="none"/>
<path d="M319.75 297.4V306.4" stroke="#333" stroke-width="1.3" fill="none"/>
<rect x="309.75" y="306.4" width="20" height="13" fill="#C77CFF" stroke="#333" stroke-width="1.3"/>
<path d="M309.75 314H329.75" stroke="#333" stroke-width="2.4" fill="none"/>
<path d="M239.1 273.9H319.95" stroke="#1a1a1a" stroke-width="1.25" fill="none"/>
<text x="279.62" y="275.54" font-size="13.4" text-anchor="middle" fill="#000" stroke="#000" stroke-width="0.25">*</text>
<path d="M239.1 284.95H293.2" stroke="#1a1a1a" stroke-width="1.25" fill="none"/>
<text x="262.85" y="286.59" font-size="13.4" text-anchor="middle" fill="#000" stroke="#000" stroke-width="0.25">*</text>
<text x="269.65" y="286.59" font-size="13.4" text-anchor="middle" fill="#000" stroke="#000" stroke-width="0.25">*</text>
<path d="M239.1 295.45H266.45" stroke="#1a1a1a" stroke-width="1.25" fill="none"/>
<text x="252.88" y="297.09" font-size="13.4" text-anchor="middle" fill="#000" stroke="#000" stroke-width="0.25">*</text>
<circle cx="241.4" cy="325" r="2" fill="#000"/>
<circle cx="237.6" cy="336.4" r="2" fill="#000"/>
<circle cx="242" cy="336.4" r="2" fill="#000"/>
<circle cx="266.6" cy="299" r="2" fill="#000"/>
<circle cx="265" cy="305.4" r="2" fill="#000"/>
<circle cx="268" cy="307.6" r="2" fill="#000"/>
<circle cx="264.4" cy="319.6" r="2" fill="#000"/>
<circle cx="266.4" cy="319.4" r="2" fill="#000"/>
<circle cx="292.4" cy="279" r="2" fill="#000"/>
<circle cx="295.6" cy="280.6" r="2" fill="#000"/>
<circle cx="291.4" cy="298" r="2" fill="#000"/>
<circle cx="293" cy="301.6" r="2" fill="#000"/>
<circle cx="291" cy="303" r="2" fill="#000"/>
<circle cx="294.4" cy="308" r="2" fill="#000"/>
<circle cx="292.6" cy="314" r="2" fill="#000"/>
<circle cx="291.4" cy="319.6" r="2" fill="#000"/>
<circle cx="294" cy="319.6" r="2" fill="#000"/>
<circle cx="320.4" cy="297.4" r="2" fill="#000"/>
<circle cx="321.4" cy="299.4" r="2" fill="#000"/>
<circle cx="321" cy="302.4" r="2" fill="#000"/>
<circle cx="318" cy="310" r="2" fill="#000"/>
<circle cx="317.4" cy="313.6" r="2" fill="#000"/>
<circle cx="321" cy="314" r="2" fill="#000"/>
<circle cx="318" cy="319.4" r="2" fill="#000"/>
<circle cx="320" cy="319.4" r="2" fill="#000"/>
<circle cx="322" cy="319.4" r="2" fill="#000"/>
<path d="M223.5 258.5V357.1M335.5 258.5V357.1" stroke="#5a5a5a" stroke-width="1.15" stroke-linecap="square" fill="none"/>
<path d="M223.5 258.5H335.5" stroke="#8c8c8c" stroke-width="1.2" fill="none"/>
<path d="M223.5 357.1H335.5" stroke="#5a5a5a" stroke-width="1.15" fill="none"/>
<path d="M220 262.9H223M220 277.9H223M220 292.9H223M220 307.9H223M220 322.9H223M220 337.9H223M220 352.9H223M239.5 357.6V360.6M266.25 357.6V360.6M293 357.6V360.6M319.75 357.6V360.6" stroke="#333" stroke-width="1.2" fill="none"/>
<text x="217.1" y="269.1" text-anchor="end" font-size="11.7" fill="#525252">10<tspan font-size="8.2" dy="-5.8">4</tspan></text>
<text x="217.1" y="284.1" text-anchor="end" font-size="11.7" fill="#525252">10<tspan font-size="8.2" dy="-5.8">3.5</tspan></text>
<text x="217.1" y="299.1" text-anchor="end" font-size="11.7" fill="#525252">10<tspan font-size="8.2" dy="-5.8">3</tspan></text>
<text x="217.1" y="314.1" text-anchor="end" font-size="11.7" fill="#525252">10<tspan font-size="8.2" dy="-5.8">2.5</tspan></text>
<text x="217.1" y="329.1" text-anchor="end" font-size="11.7" fill="#525252">10<tspan font-size="8.2" dy="-5.8">2</tspan></text>
<text x="217.1" y="344.1" text-anchor="end" font-size="11.7" fill="#525252">10<tspan font-size="8.2" dy="-5.8">1.5</tspan></text>
<text x="217.1" y="359.1" text-anchor="end" font-size="11.7" fill="#525252">10<tspan font-size="8.2" dy="-5.8">1</tspan></text>
<text x="239.5" y="371.5" text-anchor="middle" font-size="11.7" fill="#525252">NI</text>
<text x="266.25" y="371.5" text-anchor="middle" font-size="11.7" fill="#525252">H</text>
<text x="293" y="371.5" text-anchor="middle" font-size="11.7" fill="#525252">E</text>
<text x="319.75" y="371.5" text-anchor="middle" font-size="11.7" fill="#525252">IND</text>
<text transform="translate(183.1 307.4) rotate(-90)" text-anchor="middle" font-size="12" fill="#000">VILIP-1</text>
</g>
<g>
<text x="234.9" y="400.6" font-size="11.7" fill="#000">groups</text>
<path d="M287 389V404.6" stroke="#333" stroke-width="1.1" fill="none"/>
<rect x="279.3" y="392.5" width="15.4" height="9" fill="#F8766D" stroke="#333" stroke-width="1.1"/>
<path d="M279.3 397H294.7" stroke="#333" stroke-width="2.1" fill="none"/>
<circle cx="287" cy="397" r="1.9" fill="#000"/>
<text x="303.4" y="400.6" font-size="11.7" fill="#000">NI</text>
<path d="M331.2 389V404.6" stroke="#333" stroke-width="1.1" fill="none"/>
<rect x="323.5" y="392.5" width="15.4" height="9" fill="#7CAE00" stroke="#333" stroke-width="1.1"/>
<path d="M323.5 397H338.9" stroke="#333" stroke-width="2.1" fill="none"/>
<circle cx="331.2" cy="397" r="1.9" fill="#000"/>
<text x="347.6" y="400.6" font-size="11.7" fill="#000">H</text>
<path d="M372.6 389V404.6" stroke="#333" stroke-width="1.1" fill="none"/>
<rect x="364.9" y="392.5" width="15.4" height="9" fill="#00BFC4" stroke="#333" stroke-width="1.1"/>
<path d="M364.9 397H380.3" stroke="#333" stroke-width="2.1" fill="none"/>
<circle cx="372.6" cy="397" r="1.9" fill="#000"/>
<text x="389.2" y="400.6" font-size="11.7" fill="#000">E</text>
<path d="M413.2 389V404.6" stroke="#333" stroke-width="1.1" fill="none"/>
<rect x="405.5" y="392.5" width="15.4" height="9" fill="#C77CFF" stroke="#333" stroke-width="1.1"/>
<path d="M405.5 397H420.9" stroke="#333" stroke-width="2.1" fill="none"/>
<circle cx="413.2" cy="397" r="1.9" fill="#000"/>
<text x="429.2" y="400.6" font-size="11.7" fill="#000">IND</text>
</g>
</svg>
</body></html>
